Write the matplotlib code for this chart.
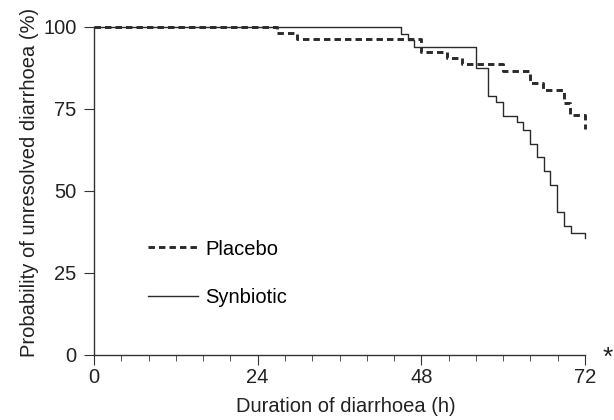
import matplotlib.pyplot as plt

plt.rcParams['font.family'] = ['Liberation Sans', 'DejaVu Sans']

# Kaplan-Meier style curves
placebo_t = [0, 26.8, 29.7, 47.9, 51.8, 53.9, 60.0, 63.9, 65.8, 68.9, 69.8, 72]
placebo_p = [100, 98.1, 96.2, 92.3, 90.5, 88.6, 86.6, 82.8, 80.8, 76.9, 73.2, 69]

synbiotic_t = [0, 45.0, 46.0, 46.9, 56.0, 57.8, 59.0, 60.0, 62.0, 62.9, 63.9,
               64.9, 66.0, 66.9, 67.9, 68.9, 70.0, 72]
synbiotic_p = [100, 97.9, 96.0, 93.8, 87.6, 79.0, 77.2, 72.9, 71.1, 68.6, 64.3,
               60.5, 56.1, 51.8, 43.7, 39.3, 37.3, 35.6]

x_ticks = [0, 24, 48, 72]
y_ticks = [0, 25, 50, 75, 100]

fig = plt.figure(figsize=(6.14, 4.2), dpi=100)
ax = fig.add_axes([0.1531, 0.1548, 0.7997, 0.781])

ink = '#2a2a2a'
ax.step(placebo_t, placebo_p, where='post', color=ink, lw=2.1,
        dashes=(2.2, 1.4), label='Placebo', clip_on=False)
ax.step(synbiotic_t, synbiotic_p, where='post', color=ink, lw=1.0,
        label='Synbiotic', clip_on=False)

ax.set_xlim(0, 72)
ax.set_ylim(0, 100)
ax.set_xticks(x_ticks)
ax.set_xticks(range(0, 73, 4), minor=True)
ax.set_yticks(y_ticks)
ax.spines['top'].set_visible(False)
ax.spines['right'].set_visible(False)
for s in ['left', 'bottom']:
    ax.spines[s].set_color('#333333')
    ax.spines[s].set_linewidth(1.0)
ax.tick_params(axis='both', which='major', direction='out', length=7.5,
               labelsize=14.5, color='#333333', labelcolor='#222222')
ax.tick_params(axis='x', which='major', pad=2)
ax.tick_params(axis='y', which='major', pad=5)
ax.tick_params(axis='x', which='minor', direction='out', length=4.5, color='#333333')

ax.set_xlabel('Duration of diarrhoea (h)', fontsize=14.5, color='#222222')
ax.xaxis.set_label_coords(0.513, -0.128)
ax.set_ylabel('Probability of unresolved diarrhoea (%)', fontsize=14.5, color='#222222')
ax.yaxis.set_label_coords(-0.112, 0.527)

ax.text(1.036, -0.03, '*', transform=ax.transAxes, fontsize=19, color='#222222',
        ha='left', va='baseline')

ax.legend(loc='upper left', bbox_to_anchor=(0.110, 0.352), frameon=False,
          fontsize=14.5, handlelength=2.5, handletextpad=0.35, labelspacing=1.45,
          borderpad=0, borderaxespad=0)

fig.savefig('out.png', dpi=100)
